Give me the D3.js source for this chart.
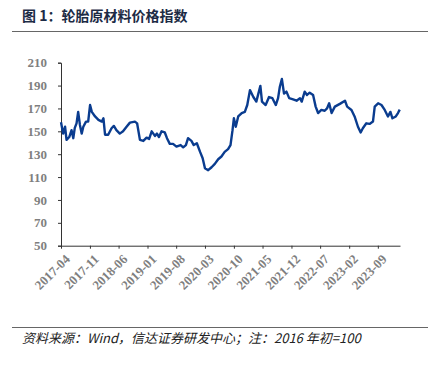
<!DOCTYPE html>
<html>
<head>
<meta charset="utf-8">
<script src="https://cdn.jsdelivr.net/npm/d3@7"></script>
<style>
  body { margin: 0; background: #fff; }
  svg { display: block; }
</style>
</head>
<body>
<svg id="chart" width="431" height="365"></svg>
<script>
// 轮胎原材料价格指数 (2016 年初 = 100)
const dates = [
  "2017-04-01","2017-04-17","2017-05-01","2017-05-12","2017-06-01","2017-06-18","2017-07-01","2017-07-12",
  "2017-07-25","2017-08-06","2017-08-19","2017-09-01","2017-09-13","2017-10-03","2017-10-19","2017-11-02",
  "2017-11-15","2017-12-09","2018-01-03","2018-01-28","2018-02-09","2018-02-21","2018-03-16","2018-04-10",
  "2018-04-27","2018-05-16","2018-06-10","2018-07-04","2018-07-30","2018-08-24","2018-09-30","2018-10-16",
  "2018-11-06","2018-12-01","2018-12-25","2019-01-13","2019-02-01","2019-02-25","2019-03-12","2019-03-27",
  "2019-04-15","2019-05-09","2019-05-25","2019-06-15","2019-07-09","2019-08-03","2019-09-03","2019-09-22",
  "2019-10-12","2019-10-28","2019-11-22","2019-12-09","2020-01-01","2020-01-25","2020-02-13","2020-03-01",
  "2020-03-25","2020-04-19","2020-05-13","2020-06-07","2020-07-01","2020-07-25","2020-08-19","2020-09-06",
  "2020-09-21","2020-10-01","2020-10-15","2020-11-02","2020-11-28","2020-12-21","2021-01-08","2021-01-28",
  "2021-02-22","2021-03-16","2021-04-15","2021-04-27","2021-05-24","2021-06-18","2021-07-13","2021-08-07",
  "2021-08-24","2021-09-06","2021-09-21","2021-10-07","2021-10-25","2021-11-14","2021-12-13","2022-01-08",
  "2022-02-02","2022-02-15","2022-03-09","2022-03-26","2022-04-15","2022-05-10","2022-05-29","2022-06-16",
  "2022-07-10","2022-08-04","2022-08-21","2022-09-06","2022-09-24","2022-10-18","2022-11-24","2023-01-01",
  "2023-01-17","2023-02-18","2023-03-13","2023-04-07","2023-04-27","2023-05-13","2023-06-08","2023-07-02",
  "2023-07-27","2023-08-09","2023-09-03","2023-09-28","2023-10-22","2023-11-15","2023-12-03","2023-12-18",
  "2024-01-12","2024-01-28","2024-02-10"
]
const values = [
  158, 148, 154, 142.5, 145, 151, 144, 153,
  157, 167, 155.6, 148, 154, 158.5, 158.5, 173,
  167, 163, 160, 158.5, 161.4, 147, 147, 152.7,
  154.7, 151, 148, 150, 154, 157.6, 158.5, 157,
  142.5, 141.6, 144.5, 143.4, 150, 146, 148, 145,
  150, 149, 144, 139, 139, 136.6, 138, 136,
  138, 144, 141.6, 138, 139.6, 132, 126.5, 117.8,
  116, 118.6, 121.5, 125.6, 128, 132, 134.4, 138,
  151, 161.4, 154, 163, 166, 167, 173, 186,
  180, 176, 189.7, 176, 173, 180, 179, 173,
  179, 189, 195.8, 183, 184.7, 179, 178, 176.8,
  179, 176, 184.7, 181.8, 183.8, 181.8, 171.6, 166,
  168.7, 168, 170, 174.5, 166, 171.6, 174, 176.8,
  171.6, 168.7, 163, 154, 149, 152.7, 157, 156.5,
  158.5, 171.6, 174.5, 173, 168.7, 163, 167, 161.4,
  163, 166, 169
]
const xTickLabels = ["2017-04","2017-11","2018-06","2019-01","2019-08","2020-03",
  "2020-10","2021-05","2021-12","2022-07","2023-02","2023-09"]
const yTicks = [50, 70, 90, 110, 130, 150, 170, 190, 210]

const svg = d3.select('#chart')
const parse = d3.timeParse('%Y-%m-%d')
const parseMonth = d3.timeParse('%Y-%m')
const data = dates.map((d, i) => ({ date: parse(d), value: values[i] }))

const x = d3.scaleTime()
  .domain([parse("2017-04-01"), parse("2024-02-12")])
  .range([61, 400])
const y = d3.scaleLinear().domain([50, 210]).range([245.7, 62.7])

// title + rules
svg.append('text')
  .attr('x', 22).attr('y', 21)
  .attr('font-family', '"Noto Sans CJK SC", sans-serif')
  .attr('font-weight', 'bold')
  .attr('font-size', 14)
  .attr('fill', '#1c2b45')
  .text('图 1：轮胎原材料价格指数')

svg.append('line')
  .attr('x1', 12).attr('x2', 428).attr('y1', 31.5).attr('y2', 31.5)
  .attr('stroke', '#666').attr('stroke-width', 1)

svg.append('line')
  .attr('x1', 12).attr('x2', 428).attr('y1', 327.5).attr('y2', 327.5)
  .attr('stroke', '#666').attr('stroke-width', 1)

svg.append('text')
  .attr('x', 22).attr('y', 343)
  .attr('font-family', '"Noto Sans CJK SC", sans-serif')
  .attr('font-style', 'italic')
  .attr('font-size', 13)
  .attr('fill', '#222')
  .text('资料来源：Wind，信达证券研发中心；注：2016 年初=100')

// y axis
const yAxis = svg.append('g')
  .attr('transform', 'translate(61,0)')
  .call(d3.axisLeft(y).tickValues(yTicks).tickSize(3).tickPadding(11))
yAxis.select('.domain').attr('stroke', '#333')
yAxis.selectAll('.tick line').attr('stroke', '#333')
yAxis.selectAll('text')
  .attr('font-family', '"Liberation Serif", "Times New Roman", serif')
  .attr('font-weight', 'bold')
  .attr('font-size', 13)
  .attr('fill', '#7f7f7f')

// x axis
const xAxis = svg.append('g')
  .attr('transform', 'translate(0,245.7)')
  .call(d3.axisBottom(x)
    .tickValues(xTickLabels.map(parseMonth))
    .tickFormat(d3.timeFormat('%Y-%m'))
    .tickSize(3)
    .tickSizeOuter(0))
xAxis.select('.domain').attr('stroke', '#333')
xAxis.selectAll('.tick line').attr('stroke', '#333')
xAxis.selectAll('text')
  .attr('font-family', '"Liberation Serif", "Times New Roman", serif')
  .attr('font-weight', 'bold')
  .attr('font-size', 13)
  .attr('fill', '#7f7f7f')
  .attr('text-anchor', 'end')
  .attr('dy', null)
  .attr('transform', 'translate(5,10) rotate(-45)')

// line
const line = d3.line()
  .x(d => x(d.date))
  .y(d => y(d.value))

svg.append('path')
  .datum(data)
  .attr('d', line)
  .attr('fill', 'none')
  .attr('stroke', '#0a3c8f')
  .attr('stroke-width', 2.4)
  .attr('stroke-linejoin', 'round')
</script>
</body>
</html>
